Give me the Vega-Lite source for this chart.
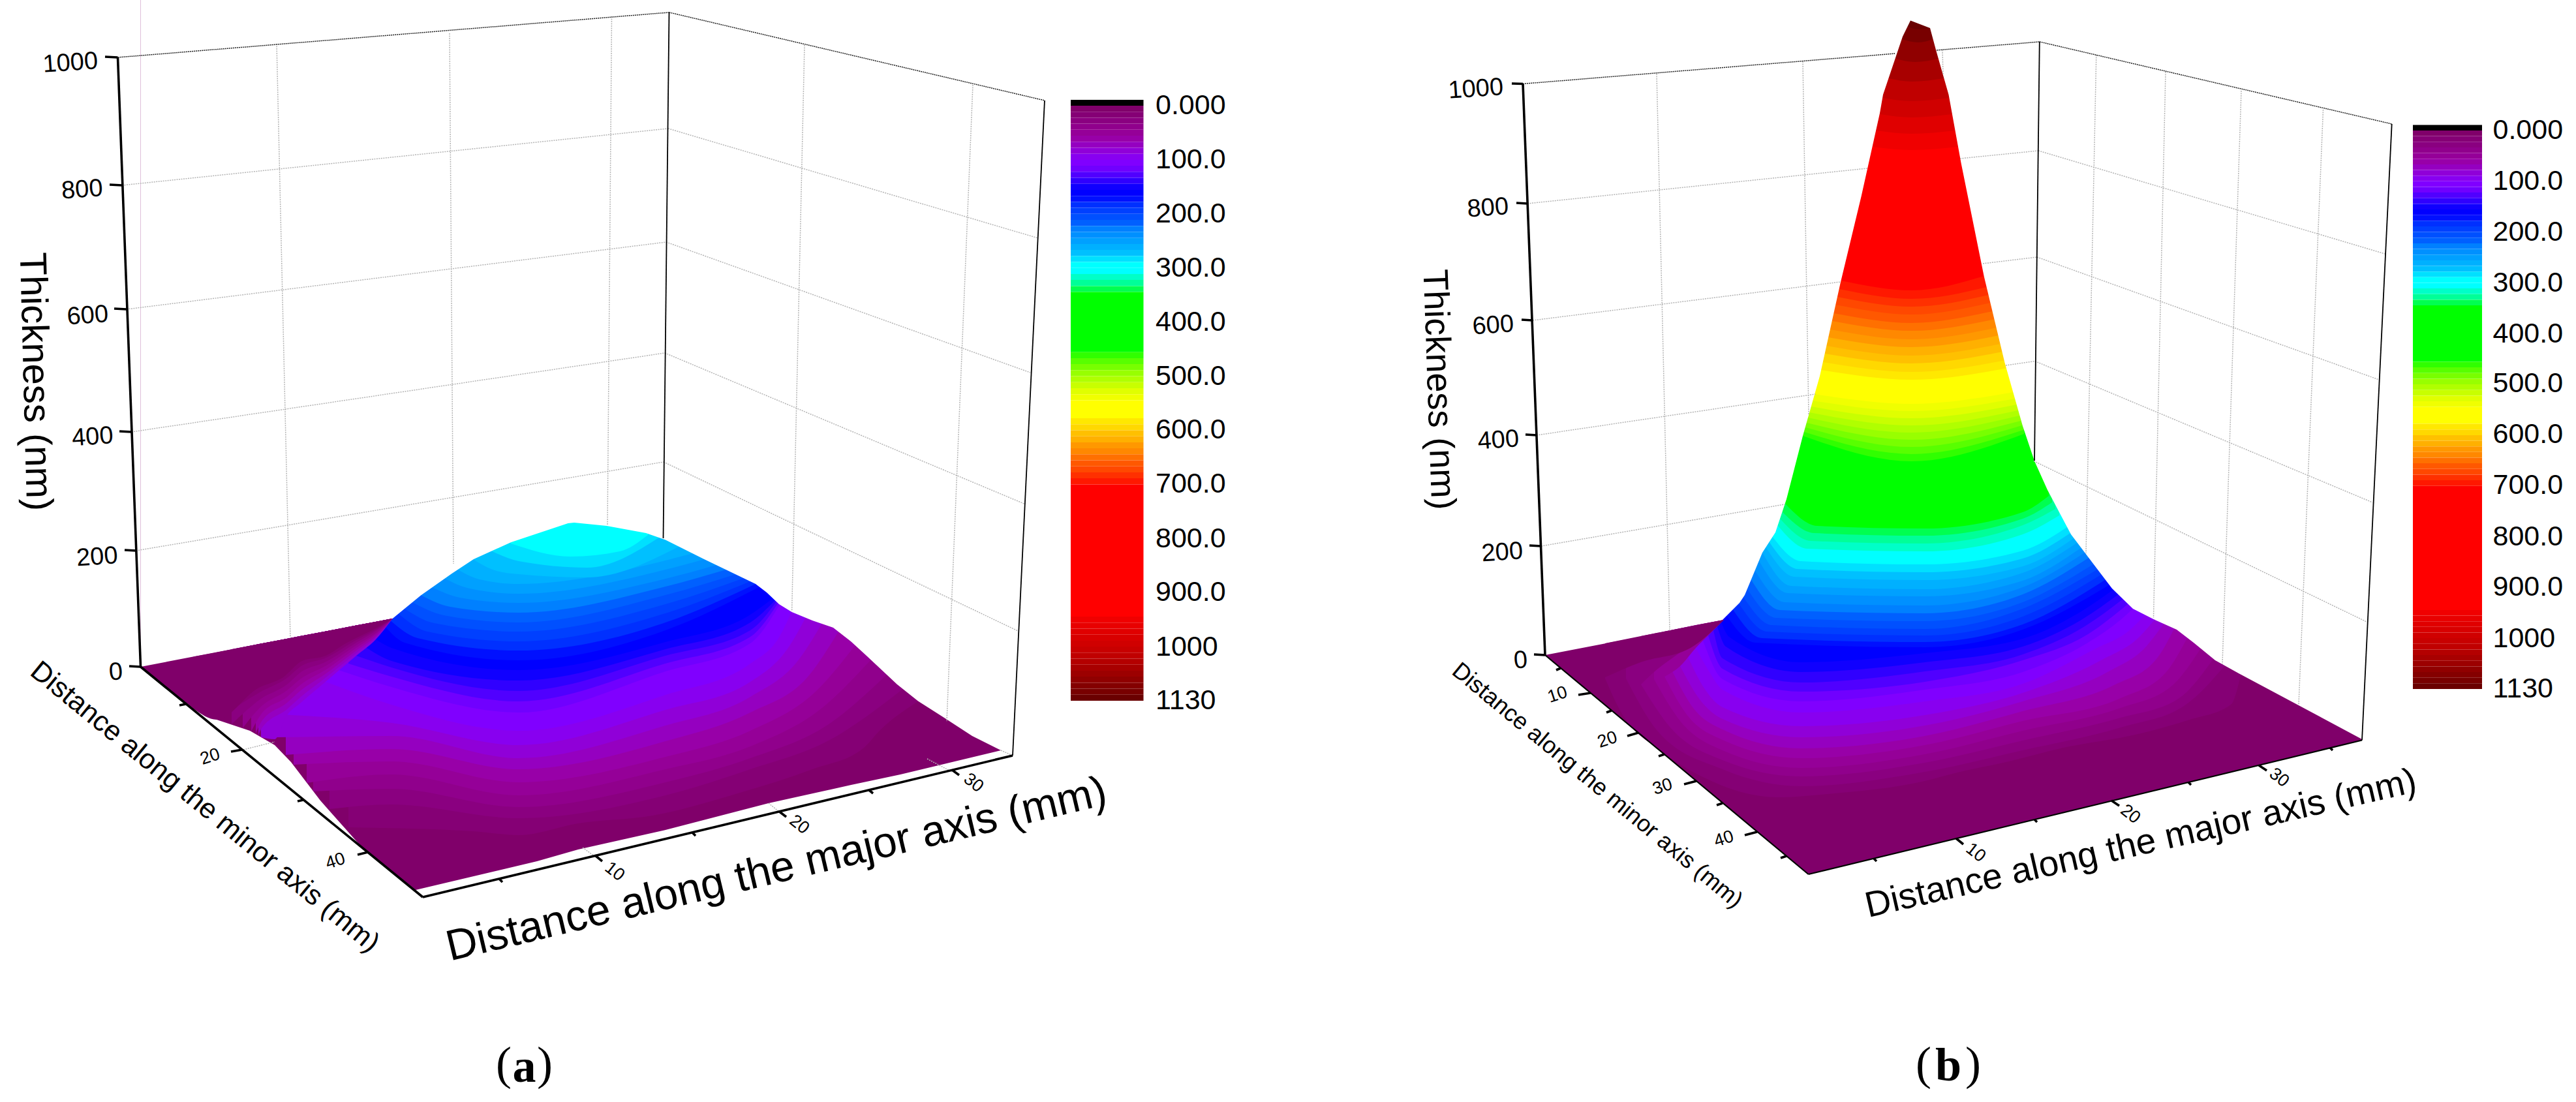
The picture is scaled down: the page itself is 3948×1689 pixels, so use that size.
{"$schema":"https://vega.github.io/schema/vega-lite/v6.json","width":3948,"height":1689,"autosize":{"type":"fit","contains":"padding"},"padding":0,"background":"white","view":{"stroke":null},
"config":{"text":{"font":"Liberation Sans","color":"black"}},
"encoding":{"x":{"field":"u","type":"quantitative","scale":{"domain":[0,3948]},"axis":null},"y":{"field":"v","type":"quantitative","scale":{"domain":[0,1689],"reverse":true},"axis":null,"stack":null}},
"layer":[
{"data":{"values":[
{"p":"a","u":215.5,"v":1022},{"p":"a","u":296.5,"v":1086},{"p":"a","u":332,"v":1103},{"p":"a","u":383,"v":1120},{"p":"a","u":421,"v":1142},{"p":"a","u":446,"v":1168},{"p":"a","u":491,"v":1227},{"p":"a","u":554,"v":1298},{"p":"a","u":637,"v":1364},{"p":"a","u":823,"v":1320},{"p":"a","u":886,"v":1302},{"p":"a","u":1020,"v":1272},{"p":"a","u":1178,"v":1231},{"p":"a","u":1304.5,"v":1203},{"p":"a","u":1380,"v":1187},{"p":"a","u":1534,"v":1150},
{"p":"b","u":2368,"v":1004},{"p":"b","u":2771.6,"v":1340},{"p":"b","u":3620,"v":1134.5}]},
"mark":{"type":"area","color":"#80006a","opacity":1},"encoding":{"y2":{"datum":0},"detail":{"field":"p"}}},
{"data":{"values":[
{"p":"a","k":1,"u":534,"v":1268},{"p":"a","k":1,"u":724,"v":1274},{"p":"a","k":1,"u":795,"v":1280},{"p":"a","k":1,"u":886,"v":1262},{"p":"a","k":1,"u":1000,"v":1250},{"p":"a","k":1,"u":1134,"v":1215},{"p":"a","k":1,"u":1245,"v":1179},{"p":"a","k":1,"u":1324,"v":1146},{"p":"a","k":1,"u":1348,"v":1120},{"p":"a","k":1,"u":1407,"v":1075},
{"p":"a","k":2,"u":505,"v":1240},{"p":"a","k":2,"u":600,"v":1233},{"p":"a","k":2,"u":795,"v":1254},{"p":"a","k":2,"u":1020,"v":1219},{"p":"a","k":2,"u":1150,"v":1179},{"p":"a","k":2,"u":1270,"v":1135},{"p":"a","k":2,"u":1385,"v":1055},
{"p":"a","k":3,"u":480,"v":1213},{"p":"a","k":3,"u":600,"v":1209},{"p":"a","k":3,"u":795,"v":1237},{"p":"a","k":3,"u":1020,"v":1199},{"p":"a","k":3,"u":1150,"v":1162},{"p":"a","k":3,"u":1270,"v":1110},{"p":"a","k":3,"u":1360,"v":1033},
{"p":"a","k":4,"u":470,"v":1200},{"p":"a","k":4,"u":600,"v":1187},{"p":"a","k":4,"u":795,"v":1219},{"p":"a","k":4,"u":1020,"v":1179},{"p":"a","k":4,"u":1150,"v":1144},{"p":"a","k":4,"u":1260,"v":1085},{"p":"a","k":4,"u":1335,"v":1011},
{"p":"a","k":5,"u":450,"v":1172},{"p":"a","k":5,"u":600,"v":1167},{"p":"a","k":5,"u":795,"v":1199},{"p":"a","k":5,"u":1020,"v":1160},{"p":"a","k":5,"u":1150,"v":1120},{"p":"a","k":5,"u":1250,"v":1060},{"p":"a","k":5,"u":1310,"v":990},
{"p":"a","k":6,"u":438,"v":1157},{"p":"a","k":6,"u":600,"v":1148},{"p":"a","k":6,"u":795,"v":1179},{"p":"a","k":6,"u":1020,"v":1136},{"p":"a","k":6,"u":1150,"v":1092},{"p":"a","k":6,"u":1240,"v":1035},{"p":"a","k":6,"u":1285,"v":968},
{"p":"a","k":7,"u":421,"v":1130},{"p":"a","k":7,"u":600,"v":1128},{"p":"a","k":7,"u":795,"v":1162},{"p":"a","k":7,"u":1020,"v":1112},{"p":"a","k":7,"u":1150,"v":1068},{"p":"a","k":7,"u":1225,"v":1010},{"p":"a","k":7,"u":1260,"v":955},
{"p":"a","k":8,"u":430,"v":1095},{"p":"a","k":8,"u":600,"v":1108},{"p":"a","k":8,"u":795,"v":1142},{"p":"a","k":8,"u":1020,"v":1088},{"p":"a","k":8,"u":1150,"v":1045},{"p":"a","k":8,"u":1210,"v":990},{"p":"a","k":8,"u":1235,"v":946},
{"p":"a","k":9,"u":499,"v":1045},{"p":"a","k":9,"u":600,"v":1080},{"p":"a","k":9,"u":795,"v":1120},{"p":"a","k":9,"u":1020,"v":1065},{"p":"a","k":9,"u":1150,"v":1017},{"p":"a","k":9,"u":1195,"v":975},{"p":"a","k":9,"u":1213,"v":938},
{"p":"a","k":10,"u":519,"v":1027},{"p":"a","k":10,"u":600,"v":1053},{"p":"a","k":10,"u":795,"v":1092},{"p":"a","k":10,"u":1020,"v":1029},{"p":"a","k":10,"u":1150,"v":986},{"p":"a","k":10,"u":1196,"v":925},
{"p":"a","k":11,"u":534,"v":1017},{"p":"a","k":11,"u":600,"v":1037},{"p":"a","k":11,"u":795,"v":1075},{"p":"a","k":11,"u":1020,"v":1017},{"p":"a","k":11,"u":1150,"v":976},{"p":"a","k":11,"u":1192,"v":925},
{"p":"a","k":12,"u":546,"v":1005},{"p":"a","k":12,"u":600,"v":1023},{"p":"a","k":12,"u":795,"v":1059},{"p":"a","k":12,"u":1020,"v":1005},{"p":"a","k":12,"u":1150,"v":966},{"p":"a","k":12,"u":1190,"v":922},
{"p":"a","k":13,"u":562,"v":993},{"p":"a","k":13,"u":600,"v":1013},{"p":"a","k":13,"u":795,"v":1043},{"p":"a","k":13,"u":1020,"v":995},{"p":"a","k":13,"u":1150,"v":954},{"p":"a","k":13,"u":1188,"v":920},
{"p":"a","k":14,"u":576,"v":980},{"p":"a","k":14,"u":600,"v":993},{"p":"a","k":14,"u":795,"v":1027},{"p":"a","k":14,"u":1020,"v":984},{"p":"a","k":14,"u":1150,"v":942},{"p":"a","k":14,"u":1186,"v":916},
{"p":"a","k":15,"u":590,"v":960},{"p":"a","k":15,"u":620,"v":985},{"p":"a","k":15,"u":795,"v":1012},{"p":"a","k":15,"u":1020,"v":966},{"p":"a","k":15,"u":1165,"v":899},
{"p":"a","k":16,"u":597,"v":950},{"p":"a","k":16,"u":640,"v":978},{"p":"a","k":16,"u":795,"v":997},{"p":"a","k":16,"u":1020,"v":954},{"p":"a","k":16,"u":1158,"v":895},
{"p":"a","k":17,"u":610,"v":940},{"p":"a","k":17,"u":655,"v":968},{"p":"a","k":17,"u":795,"v":983},{"p":"a","k":17,"u":1020,"v":940},{"p":"a","k":17,"u":1150,"v":891},
{"p":"a","k":18,"u":620,"v":933},{"p":"a","k":18,"u":665,"v":955},{"p":"a","k":18,"u":795,"v":968},{"p":"a","k":18,"u":1020,"v":926},{"p":"a","k":18,"u":1140,"v":886},
{"p":"a","k":19,"u":632,"v":923},{"p":"a","k":19,"u":680,"v":943},{"p":"a","k":19,"u":795,"v":954},{"p":"a","k":19,"u":1020,"v":912},{"p":"a","k":19,"u":1128,"v":880},
{"p":"a","k":20,"u":645,"v":912},{"p":"a","k":20,"u":690,"v":930},{"p":"a","k":20,"u":795,"v":939},{"p":"a","k":20,"u":1020,"v":899},{"p":"a","k":20,"u":1113,"v":873},
{"p":"a","k":21,"u":662,"v":900},{"p":"a","k":21,"u":705,"v":916},{"p":"a","k":21,"u":795,"v":924},{"p":"a","k":21,"u":1020,"v":887},{"p":"a","k":21,"u":1098,"v":866},
{"p":"a","k":22,"u":680,"v":886},{"p":"a","k":22,"u":720,"v":902},{"p":"a","k":22,"u":795,"v":910},{"p":"a","k":22,"u":1020,"v":873},{"p":"a","k":22,"u":1080,"v":857},
{"p":"a","k":23,"u":700,"v":872},{"p":"a","k":23,"u":735,"v":888},{"p":"a","k":23,"u":795,"v":895},{"p":"a","k":23,"u":1020,"v":859},{"p":"a","k":23,"u":1062,"v":848},
{"p":"a","k":24,"u":725,"v":857},{"p":"a","k":24,"u":755,"v":873},{"p":"a","k":24,"u":795,"v":880},{"p":"a","k":24,"u":900,"v":885},{"p":"a","k":24,"u":1040,"v":838},
{"p":"a","k":25,"u":750,"v":843},{"p":"a","k":25,"u":795,"v":860},{"p":"a","k":25,"u":900,"v":870},{"p":"a","k":25,"u":1010,"v":824},
{"p":"a","k":26,"u":783,"v":833},{"p":"a","k":26,"u":874,"v":853},{"p":"a","k":26,"u":950,"v":845},{"p":"a","k":26,"u":993,"v":820},
{"p":"b","k":1,"u":2460,"v":1040},{"p":"b","k":1,"u":2483,"v":1089},{"p":"b","k":1,"u":2546,"v":1151},{"p":"b","k":1,"u":2610,"v":1191},{"p":"b","k":1,"u":2725,"v":1222},{"p":"b","k":1,"u":2801,"v":1217},{"p":"b","k":1,"u":2950,"v":1197},{"p":"b","k":1,"u":3000,"v":1184},{"p":"b","k":1,"u":3079,"v":1167},{"p":"b","k":1,"u":3158,"v":1147},{"p":"b","k":1,"u":3277,"v":1125},{"p":"b","k":1,"u":3356,"v":1103},{"p":"b","k":1,"u":3419,"v":1080},{"p":"b","k":1,"u":3434,"v":1036},
{"p":"b","k":2,"u":2492,"v":1040},{"p":"b","k":2,"u":2540,"v":1120},{"p":"b","k":2,"u":2640,"v":1179},{"p":"b","k":2,"u":2760,"v":1205},{"p":"b","k":2,"u":2950,"v":1183},{"p":"b","k":2,"u":3100,"v":1150},{"p":"b","k":2,"u":3250,"v":1115},{"p":"b","k":2,"u":3350,"v":1080},{"p":"b","k":2,"u":3410,"v":1020},
{"p":"b","k":3,"u":2515,"v":1049},{"p":"b","k":3,"u":2560,"v":1115},{"p":"b","k":3,"u":2640,"v":1165},{"p":"b","k":3,"u":2760,"v":1190},{"p":"b","k":3,"u":2950,"v":1169},{"p":"b","k":3,"u":3100,"v":1135},{"p":"b","k":3,"u":3250,"v":1100},{"p":"b","k":3,"u":3340,"v":1070},{"p":"b","k":3,"u":3392,"v":1010},
{"p":"b","k":4,"u":2535,"v":1041},{"p":"b","k":4,"u":2575,"v":1105},{"p":"b","k":4,"u":2640,"v":1150},{"p":"b","k":4,"u":2760,"v":1177},{"p":"b","k":4,"u":2950,"v":1156},{"p":"b","k":4,"u":3100,"v":1120},{"p":"b","k":4,"u":3250,"v":1085},{"p":"b","k":4,"u":3330,"v":1050},{"p":"b","k":4,"u":3372,"v":995},
{"p":"b","k":5,"u":2551,"v":1037},{"p":"b","k":5,"u":2585,"v":1095},{"p":"b","k":5,"u":2640,"v":1134},{"p":"b","k":5,"u":2760,"v":1162},{"p":"b","k":5,"u":2950,"v":1142},{"p":"b","k":5,"u":3100,"v":1105},{"p":"b","k":5,"u":3250,"v":1070},{"p":"b","k":5,"u":3320,"v":1030},{"p":"b","k":5,"u":3352,"v":978},
{"p":"b","k":6,"u":2563,"v":1029},{"p":"b","k":6,"u":2595,"v":1085},{"p":"b","k":6,"u":2640,"v":1118},{"p":"b","k":6,"u":2760,"v":1147},{"p":"b","k":6,"u":2950,"v":1128},{"p":"b","k":6,"u":3100,"v":1090},{"p":"b","k":6,"u":3240,"v":1050},{"p":"b","k":6,"u":3305,"v":1010},{"p":"b","k":6,"u":3332,"v":964},
{"p":"b","k":7,"u":2575,"v":1021},{"p":"b","k":7,"u":2605,"v":1072},{"p":"b","k":7,"u":2640,"v":1102},{"p":"b","k":7,"u":2760,"v":1130},{"p":"b","k":7,"u":2950,"v":1112},{"p":"b","k":7,"u":3100,"v":1075},{"p":"b","k":7,"u":3230,"v":1030},{"p":"b","k":7,"u":3290,"v":990},{"p":"b","k":7,"u":3316,"v":956},
{"p":"b","k":8,"u":2587,"v":1007},{"p":"b","k":8,"u":2612,"v":1055},{"p":"b","k":8,"u":2640,"v":1084},{"p":"b","k":8,"u":2760,"v":1113},{"p":"b","k":8,"u":2950,"v":1096},{"p":"b","k":8,"u":3100,"v":1062},{"p":"b","k":8,"u":3220,"v":1012},{"p":"b","k":8,"u":3280,"v":975},{"p":"b","k":8,"u":3302,"v":950},
{"p":"b","k":9,"u":2599,"v":993},{"p":"b","k":9,"u":2620,"v":1030},{"p":"b","k":9,"u":2640,"v":1057},{"p":"b","k":9,"u":2760,"v":1092},{"p":"b","k":9,"u":2950,"v":1075},{"p":"b","k":9,"u":3100,"v":1048},{"p":"b","k":9,"u":3210,"v":995},{"p":"b","k":9,"u":3265,"v":965},{"p":"b","k":9,"u":3287,"v":943},
{"p":"b","k":10,"u":2610,"v":982},{"p":"b","k":10,"u":2640,"v":1041},{"p":"b","k":10,"u":2760,"v":1075},{"p":"b","k":10,"u":2950,"v":1057},{"p":"b","k":10,"u":3100,"v":1030},{"p":"b","k":10,"u":3200,"v":985},{"p":"b","k":10,"u":3250,"v":950},{"p":"b","k":10,"u":3270,"v":932},
{"p":"b","k":11,"u":2618,"v":974},{"p":"b","k":11,"u":2640,"v":1025},{"p":"b","k":11,"u":2760,"v":1060},{"p":"b","k":11,"u":2950,"v":1045},{"p":"b","k":11,"u":3100,"v":1012},{"p":"b","k":11,"u":3200,"v":972},{"p":"b","k":11,"u":3262,"v":925},
{"p":"b","k":12,"u":2626,"v":966},{"p":"b","k":12,"u":2640,"v":1009},{"p":"b","k":12,"u":2760,"v":1046},{"p":"b","k":12,"u":2950,"v":1029},{"p":"b","k":12,"u":3100,"v":1003},{"p":"b","k":12,"u":3195,"v":960},{"p":"b","k":12,"u":3255,"v":917},
{"p":"b","k":13,"u":2632,"v":960},{"p":"b","k":13,"u":2645,"v":991},{"p":"b","k":13,"u":2760,"v":1030},{"p":"b","k":13,"u":2950,"v":1015},{"p":"b","k":13,"u":3100,"v":991},{"p":"b","k":13,"u":3190,"v":950},{"p":"b","k":13,"u":3248,"v":910},
{"p":"b","k":14,"u":2638,"v":954},{"p":"b","k":14,"u":2650,"v":976},{"p":"b","k":14,"u":2760,"v":1015},{"p":"b","k":14,"u":2950,"v":1001},{"p":"b","k":14,"u":3100,"v":979},{"p":"b","k":14,"u":3185,"v":940},{"p":"b","k":14,"u":3240,"v":903},
{"p":"b","k":15,"u":2645,"v":942},{"p":"b","k":15,"u":2690,"v":985},{"p":"b","k":15,"u":2950,"v":992},{"p":"b","k":15,"u":3100,"v":965},{"p":"b","k":15,"u":3232,"v":897},
{"p":"b","k":16,"u":2655,"v":933},{"p":"b","k":16,"u":2700,"v":978},{"p":"b","k":16,"u":2950,"v":984},{"p":"b","k":16,"u":3100,"v":957},{"p":"b","k":16,"u":3226,"v":889},
{"p":"b","k":17,"u":2665,"v":925},{"p":"b","k":17,"u":2708,"v":968},{"p":"b","k":17,"u":2950,"v":974},{"p":"b","k":17,"u":3100,"v":945},{"p":"b","k":17,"u":3220,"v":881},
{"p":"b","k":18,"u":2672,"v":915},{"p":"b","k":18,"u":2715,"v":958},{"p":"b","k":18,"u":2950,"v":964},{"p":"b","k":18,"u":3100,"v":933},{"p":"b","k":18,"u":3214,"v":873},
{"p":"b","k":19,"u":2678,"v":903},{"p":"b","k":19,"u":2722,"v":947},{"p":"b","k":19,"u":2950,"v":952},{"p":"b","k":19,"u":3100,"v":923},{"p":"b","k":19,"u":3208,"v":865},
{"p":"b","k":20,"u":2684,"v":889},{"p":"b","k":20,"u":2728,"v":935},{"p":"b","k":20,"u":2950,"v":940},{"p":"b","k":20,"u":3100,"v":911},{"p":"b","k":20,"u":3201,"v":855},
{"p":"b","k":21,"u":2690,"v":875},{"p":"b","k":21,"u":2735,"v":923},{"p":"b","k":21,"u":2950,"v":928},{"p":"b","k":21,"u":3100,"v":900},{"p":"b","k":21,"u":3195,"v":847},
{"p":"b","k":22,"u":2696,"v":860},{"p":"b","k":22,"u":2740,"v":909},{"p":"b","k":22,"u":2950,"v":914},{"p":"b","k":22,"u":3100,"v":890},{"p":"b","k":22,"u":3189,"v":840},
{"p":"b","k":23,"u":2701,"v":847},{"p":"b","k":23,"u":2745,"v":898},{"p":"b","k":23,"u":2950,"v":903},{"p":"b","k":23,"u":3100,"v":878},{"p":"b","k":23,"u":3183,"v":832},
{"p":"b","k":24,"u":2706,"v":838},{"p":"b","k":24,"u":2750,"v":884},{"p":"b","k":24,"u":2950,"v":889},{"p":"b","k":24,"u":3100,"v":868},{"p":"b","k":24,"u":3178,"v":825},
{"p":"b","k":25,"u":2711,"v":830},{"p":"b","k":25,"u":2755,"v":872},{"p":"b","k":25,"u":2950,"v":877},{"p":"b","k":25,"u":3100,"v":856},{"p":"b","k":25,"u":3173,"v":817},
{"p":"b","k":26,"u":2716,"v":822},{"p":"b","k":26,"u":2760,"v":860},{"p":"b","k":26,"u":2950,"v":865},{"p":"b","k":26,"u":3100,"v":844},{"p":"b","k":26,"u":3168,"v":808},
{"p":"b","k":28,"u":2724,"v":805},{"p":"b","k":28,"u":2770,"v":841},{"p":"b","k":28,"u":2950,"v":845},{"p":"b","k":28,"u":3100,"v":819},{"p":"b","k":28,"u":3156,"v":790},
{"p":"b","k":29,"u":2728,"v":795},{"p":"b","k":29,"u":2775,"v":829},{"p":"b","k":29,"u":2950,"v":833},{"p":"b","k":29,"u":3100,"v":805},{"p":"b","k":29,"u":3150,"v":780},
{"p":"b","k":30,"u":2732,"v":785},{"p":"b","k":30,"u":2780,"v":817},{"p":"b","k":30,"u":2950,"v":821},{"p":"b","k":30,"u":3100,"v":795},{"p":"b","k":30,"u":3145,"v":770},
{"p":"b","k":31,"u":2736,"v":772},{"p":"b","k":31,"u":2785,"v":806},{"p":"b","k":31,"u":2950,"v":810},{"p":"b","k":31,"u":3100,"v":785},{"p":"b","k":31,"u":3140,"v":760},
{"p":"b","k":41,"u":2763,"v":668},{"p":"b","k":41,"u":2930,"v":707},{"p":"b","k":41,"u":3102,"v":665},
{"p":"b","k":42,"u":2765,"v":662},{"p":"b","k":42,"u":2930,"v":696},{"p":"b","k":42,"u":3101,"v":659},
{"p":"b","k":43,"u":2767,"v":655},{"p":"b","k":43,"u":2930,"v":685},{"p":"b","k":43,"u":3099,"v":652},
{"p":"b","k":44,"u":2769,"v":648},{"p":"b","k":44,"u":2930,"v":674},{"p":"b","k":44,"u":3097,"v":645},
{"p":"b","k":45,"u":2771,"v":640},{"p":"b","k":45,"u":2930,"v":663},{"p":"b","k":45,"u":3095,"v":637},
{"p":"b","k":46,"u":2773,"v":632},{"p":"b","k":46,"u":2930,"v":652},{"p":"b","k":46,"u":3093,"v":629},
{"p":"b","k":47,"u":2776,"v":623},{"p":"b","k":47,"u":2930,"v":641},{"p":"b","k":47,"u":3091,"v":620},
{"p":"b","k":48,"u":2778,"v":614},{"p":"b","k":48,"u":2930,"v":630},{"p":"b","k":48,"u":3088,"v":611},
{"p":"b","k":49,"u":2781,"v":604},{"p":"b","k":49,"u":2930,"v":619},{"p":"b","k":49,"u":3086,"v":601},
{"p":"b","k":52,"u":2791,"v":567},{"p":"b","k":52,"u":2930,"v":582},{"p":"b","k":52,"u":3077,"v":564},
{"p":"b","k":53,"u":2794,"v":555},{"p":"b","k":53,"u":2930,"v":570},{"p":"b","k":53,"u":3074,"v":552},
{"p":"b","k":54,"u":2797,"v":542},{"p":"b","k":54,"u":2930,"v":557},{"p":"b","k":54,"u":3070,"v":539},
{"p":"b","k":55,"u":2799,"v":530},{"p":"b","k":55,"u":2930,"v":545},{"p":"b","k":55,"u":3067,"v":527},
{"p":"b","k":56,"u":2802,"v":517},{"p":"b","k":56,"u":2930,"v":532},{"p":"b","k":56,"u":3064,"v":514},
{"p":"b","k":57,"u":2805,"v":505},{"p":"b","k":57,"u":2930,"v":520},{"p":"b","k":57,"u":3061,"v":502},
{"p":"b","k":58,"u":2808,"v":492},{"p":"b","k":58,"u":2930,"v":507},{"p":"b","k":58,"u":3058,"v":489},
{"p":"b","k":59,"u":2810,"v":480},{"p":"b","k":59,"u":2930,"v":495},{"p":"b","k":59,"u":3054,"v":477},
{"p":"b","k":60,"u":2813,"v":467},{"p":"b","k":60,"u":2930,"v":482},{"p":"b","k":60,"u":3051,"v":464},
{"p":"b","k":61,"u":2816,"v":455},{"p":"b","k":61,"u":2930,"v":470},{"p":"b","k":61,"u":3048,"v":452},
{"p":"b","k":62,"u":2819,"v":443},{"p":"b","k":62,"u":2930,"v":458},{"p":"b","k":62,"u":3045,"v":440},
{"p":"b","k":63,"u":2821,"v":430},{"p":"b","k":63,"u":2930,"v":445},{"p":"b","k":63,"u":3041,"v":423},
{"p":"b","k":85,"u":2869,"v":225},{"p":"b","k":85,"u":2930,"v":230},{"p":"b","k":85,"u":3001,"v":225},
{"p":"b","k":87,"u":2875,"v":200},{"p":"b","k":87,"u":2930,"v":205},{"p":"b","k":87,"u":2997,"v":200},
{"p":"b","k":89,"u":2881,"v":175},{"p":"b","k":89,"u":2930,"v":180},{"p":"b","k":89,"u":2992,"v":175},
{"p":"b","k":91,"u":2885,"v":150},{"p":"b","k":91,"u":2930,"v":155},{"p":"b","k":91,"u":2987,"v":150},
{"p":"b","k":93,"u":2894,"v":120},{"p":"b","k":93,"u":2930,"v":125},{"p":"b","k":93,"u":2980,"v":120},
{"p":"b","k":95,"u":2905,"v":90},{"p":"b","k":95,"u":2935,"v":95},{"p":"b","k":95,"u":2971,"v":90},
{"p":"b","k":97,"u":2915,"v":60},{"p":"b","k":97,"u":2940,"v":65},{"p":"b","k":97,"u":2963,"v":60},
{"p":"b","k":98,"u":2922,"v":40},{"p":"b","k":98,"u":2940,"v":45},{"p":"b","k":98,"u":2958,"v":43}
]},
"mark":{"type":"area","interpolate":"monotone","opacity":1},
"encoding":{"y2":{"datum":0},"detail":{"field":"p"},"color":{"field":"k","type":"ordinal","legend":null,"scale":{"domain":[-1,0,1,2,3,4,5,6,7,8,9,10,11,12,13,14,15,16,17,18,19,20,21,22,23,24,25,26,27,28,29,30,31,41,42,43,44,45,46,47,48,49,52,53,54,55,56,57,58,59,60,61,62,63,85,86,87,88,89,90,91,92,93,94,95,96,97,98],"range":["#000000","#80006a","#850075","#8a0080","#90008c","#950098","#9800a8","#9500c0","#9000d8","#8800f0","#8000ff","#7000ff","#5000ff","#3000ff","#1000ff","#0000ff","#0010ff","#0030ff","#0040ff","#0050ff","#0060ff","#0080ff","#0090ff","#00a0ff","#00b0ff","#00c0ff","#00e0ff","#00ffff","#00ffff","#00ffc8","#00ff98","#00ff50","#00ff00","#30ff00","#58ff00","#78ff00","#98ff00","#b0ff00","#c8ff00","#e0ff00","#f0ff00","#ffff00","#ffe800","#ffd800","#ffc000","#ffb000","#ff9800","#ff8800","#ff7000","#ff5800","#ff4800","#ff3000","#ff1800","#ff0000","#f00000","#e80000","#e00000","#d80000","#d00000","#c80000","#c00000","#b40000","#a80000","#9c0000","#900000","#840000","#780000","#6a0000"]}}}},
{"data":{"values":[
{"p":"a","u":215.5,"v":1022},{"p":"a","u":601.7,"v":948},{"p":"a","u":645,"v":912.5},{"p":"a","u":692.6,"v":879},{"p":"a","u":726,"v":857},{"p":"a","u":783.5,"v":831},{"p":"a","u":870.6,"v":802},{"p":"a","u":880,"v":801},{"p":"a","u":930,"v":806},{"p":"a","u":990,"v":817},{"p":"a","u":1020,"v":827.5},{"p":"a","u":1079,"v":857},{"p":"a","u":1158,"v":895},{"p":"a","u":1175,"v":908},{"p":"a","u":1194,"v":926},{"p":"a","u":1213.5,"v":938},{"p":"a","u":1245,"v":951},{"p":"a","u":1277,"v":962},{"p":"a","u":1304,"v":983},{"p":"a","u":1328,"v":1005},{"p":"a","u":1375,"v":1049},{"p":"a","u":1407,"v":1074.6},{"p":"a","u":1447,"v":1100},{"p":"a","u":1490,"v":1128},{"p":"a","u":1534,"v":1150},
{"p":"b","u":2368,"v":1004},{"p":"b","u":2638,"v":952},{"p":"b","u":2666,"v":924},{"p":"b","u":2674,"v":912},{"p":"b","u":2701,"v":847},{"p":"b","u":2721,"v":816},{"p":"b","u":2738,"v":765},{"p":"b","u":2763,"v":668},{"p":"b","u":2789,"v":576.5},{"p":"b","u":2820.6,"v":434},{"p":"b","u":2852.6,"v":301},{"p":"b","u":2881,"v":173.5},{"p":"b","u":2886,"v":145},{"p":"b","u":2916,"v":56},{"p":"b","u":2928,"v":31.6},{"p":"b","u":2958,"v":43},{"p":"b","u":2967,"v":76.5},{"p":"b","u":2986.5,"v":145},{"p":"b","u":3005.6,"v":250},{"p":"b","u":3040.7,"v":423.5},{"p":"b","u":3072.5,"v":556},{"p":"b","u":3100,"v":653},{"p":"b","u":3118,"v":706.6},{"p":"b","u":3138,"v":751},{"p":"b","u":3174,"v":819},{"p":"b","u":3209.6,"v":866},{"p":"b","u":3237,"v":902},{"p":"b","u":3269,"v":933},{"p":"b","u":3300.5,"v":949},{"p":"b","u":3336,"v":965},{"p":"b","u":3362,"v":985},{"p":"b","u":3395,"v":1012},{"p":"b","u":3431,"v":1032},{"p":"b","u":3620,"v":1133}]},
"mark":{"type":"area","color":"white","opacity":1},"encoding":{"y2":{"datum":0},"detail":{"field":"p"}}},
{"data":{"values":[
{"p":"a","k":7,"u":400,"v":1130,"t":986.6},{"p":"a","k":7,"u":421,"v":1133,"t":982.6},{"p":"a","k":7,"u":440,"v":1096,"t":979},{"p":"a","k":7,"u":460,"v":1078,"t":975},{"p":"a","k":7,"u":500,"v":1044,"t":967.5},{"p":"a","k":7,"u":546,"v":1005,"t":958.6},{"p":"a","k":7,"u":576,"v":980,"t":953},{"p":"a","k":7,"u":601.7,"v":948,"t":948},
{"p":"a","k":6,"u":396,"v":1127,"t":987},{"p":"a","k":6,"u":400,"v":1118,"t":986.6},{"p":"a","k":6,"u":440,"v":1087,"t":979},{"p":"a","k":6,"u":460,"v":1069,"t":975},{"p":"a","k":6,"u":500,"v":1038,"t":967.5},{"p":"a","k":6,"u":546,"v":1001,"t":958.6},{"p":"a","k":6,"u":576,"v":977,"t":953},{"p":"a","k":6,"u":601.7,"v":948,"t":948},
{"p":"a","k":5,"u":392,"v":1124,"t":988},{"p":"a","k":5,"u":400,"v":1107,"t":986.6},{"p":"a","k":5,"u":440,"v":1077,"t":979},{"p":"a","k":5,"u":460,"v":1059,"t":975},{"p":"a","k":5,"u":500,"v":1032,"t":967.5},{"p":"a","k":5,"u":546,"v":997,"t":958.6},{"p":"a","k":5,"u":576,"v":975,"t":953},{"p":"a","k":5,"u":601.7,"v":948,"t":948},
{"p":"a","k":4,"u":385,"v":1121,"t":989.4},{"p":"a","k":4,"u":400,"v":1095,"t":986.6},{"p":"a","k":4,"u":440,"v":1068,"t":979},{"p":"a","k":4,"u":460,"v":1050,"t":975},{"p":"a","k":4,"u":500,"v":1026,"t":967.5},{"p":"a","k":4,"u":546,"v":993,"t":958.6},{"p":"a","k":4,"u":576,"v":972,"t":953},{"p":"a","k":4,"u":601.7,"v":948,"t":948},
{"p":"a","k":3,"u":372,"v":1116,"t":992},{"p":"a","k":3,"u":400,"v":1083,"t":986.6},{"p":"a","k":3,"u":440,"v":1058,"t":979},{"p":"a","k":3,"u":460,"v":1041,"t":975},{"p":"a","k":3,"u":500,"v":1020,"t":967.5},{"p":"a","k":3,"u":546,"v":989,"t":958.6},{"p":"a","k":3,"u":576,"v":970,"t":953},{"p":"a","k":3,"u":601.7,"v":948,"t":948},
{"p":"a","k":2,"u":355,"v":1110,"t":995},{"p":"a","k":2,"u":400,"v":1071,"t":986.6},{"p":"a","k":2,"u":440,"v":1049,"t":979},{"p":"a","k":2,"u":460,"v":1031,"t":975},{"p":"a","k":2,"u":500,"v":1014,"t":967.5},{"p":"a","k":2,"u":546,"v":985,"t":958.6},{"p":"a","k":2,"u":576,"v":967,"t":953},{"p":"a","k":2,"u":601.7,"v":948,"t":948},
{"p":"a","k":1,"u":332,"v":1103,"t":1000},{"p":"a","k":1,"u":400,"v":1060,"t":986.6},{"p":"a","k":1,"u":440,"v":1039,"t":979},{"p":"a","k":1,"u":460,"v":1022,"t":975},{"p":"a","k":1,"u":500,"v":1008,"t":967.5},{"p":"a","k":1,"u":546,"v":981,"t":958.6},{"p":"a","k":1,"u":576,"v":965,"t":953},{"p":"a","k":1,"u":601.7,"v":948,"t":948},
{"p":"a","k":0,"u":296.5,"v":1086,"t":1006.6},{"p":"a","k":0,"u":332,"v":1103,"t":1000},{"p":"a","k":0,"u":395,"v":1055,"t":987.5},{"p":"a","k":0,"u":434,"v":1038,"t":980},{"p":"a","k":0,"u":463,"v":1013,"t":974.6},{"p":"a","k":0,"u":499,"v":1005,"t":967.7},{"p":"a","k":0,"u":530,"v":986,"t":961.8},{"p":"a","k":0,"u":570,"v":966,"t":954},{"p":"a","k":0,"u":601.7,"v":948,"t":948},
{"p":"b","k":4,"u":2551,"v":1037,"t":968},{"p":"b","k":4,"u":2575,"v":1021,"t":963},{"p":"b","k":4,"u":2599,"v":993,"t":958},{"p":"b","k":4,"u":2618,"v":974,"t":954.5},{"p":"b","k":4,"u":2642,"v":950,"t":950},
{"p":"b","k":2,"u":2515,"v":1049,"t":975},{"p":"b","k":2,"u":2535,"v":1030,"t":971},{"p":"b","k":2,"u":2575,"v":1000,"t":963},{"p":"b","k":2,"u":2610,"v":975,"t":956},{"p":"b","k":2,"u":2642,"v":950,"t":950},
{"p":"b","k":0,"u":2460,"v":1038,"t":986},{"p":"b","k":0,"u":2514.5,"v":1015,"t":975},{"p":"b","k":0,"u":2591,"v":993,"t":960},{"p":"b","k":0,"u":2642,"v":950,"t":950}
]},
"mark":{"type":"area","interpolate":"monotone","opacity":1},
"encoding":{"y2":{"field":"t"},"detail":{"field":"p"},"color":{"field":"k","type":"ordinal","legend":null,"scale":{"domain":[-1,0,1,2,3,4,5,6,7,8,9,10,11,12,13,14,15,16,17,18,19,20,21,22,23,24,25,26,27,28,29,30,31,41,42,43,44,45,46,47,48,49,52,53,54,55,56,57,58,59,60,61,62,63,85,86,87,88,89,90,91,92,93,94,95,96,97,98],"range":["#000000","#80006a","#850075","#8a0080","#90008c","#950098","#9800a8","#9500c0","#9000d8","#8800f0","#8000ff","#7000ff","#5000ff","#3000ff","#1000ff","#0000ff","#0010ff","#0030ff","#0040ff","#0050ff","#0060ff","#0080ff","#0090ff","#00a0ff","#00b0ff","#00c0ff","#00e0ff","#00ffff","#00ffff","#00ffc8","#00ff98","#00ff50","#00ff00","#30ff00","#58ff00","#78ff00","#98ff00","#b0ff00","#c8ff00","#e0ff00","#f0ff00","#ffff00","#ffe800","#ffd800","#ffc000","#ffb000","#ff9800","#ff8800","#ff7000","#ff5800","#ff4800","#ff3000","#ff1800","#ff0000","#f00000","#e80000","#e00000","#d80000","#d00000","#c80000","#c00000","#b40000","#a80000","#9c0000","#900000","#840000","#780000","#6a0000"]}}}},
{"data":{"values":[
{"u":187,"v":284,"u2":1024,"v2":197},{"u":194,"v":474,"u2":1021,"v2":371},{"u":201.5,"v":662,"u2":1019,"v2":541},{"u":208.5,"v":844,"u2":1017,"v2":708},
{"u":1024,"v":197,"u2":1591,"v2":365},{"u":1021,"v":371,"u2":1579,"v2":571},{"u":1019,"v":541,"u2":1569.5,"v2":772},{"u":1017,"v":708,"u2":1560,"v2":967},
{"u":424,"v":67,"u2":445,"v2":978},{"u":689,"v":51,"u2":695,"v2":864},{"u":937.5,"v":25,"u2":931,"v2":805},{"u":1233,"v":69,"u2":1213.6,"v2":937},{"u":1491,"v":130,"u2":1451,"v2":1106},
{"u":373,"v":1149,"u2":421,"v2":1137},{"u":893,"v":1299,"u2":912,"v2":1313},{"u":1178,"v":1231,"u2":1195,"v2":1245},{"u":1421,"v":1163,"u2":1459,"v2":1183},{"u":1534,"v":1150,"u2":1552,"v2":1158},
{"u":2341,"v":312,"u2":2862,"v2":258},{"u":3004,"v":243,"u2":3124,"v2":231},{"u":2349,"v":491,"u2":2821,"v2":432},{"u":3039,"v":404,"u2":3122,"v2":394},{"u":2355,"v":667,"u2":2782,"v2":604},{"u":3074,"v":560,"u2":3119,"v2":553.6},{"u":2362,"v":837,"u2":2735,"v2":773},
{"u":3124,"v":231,"u2":3655,"v2":389},{"u":3122,"v":394,"u2":3645,"v2":581.6},{"u":3119,"v":553.6,"u2":3636,"v2":770},{"u":3117,"v":706.6,"u2":3627,"v2":953},
{"u":2539,"v":113,"u2":2559,"v2":967},{"u":2763,"v":94,"u2":2772,"v2":636},{"u":2977,"v":76.5,"u2":2978,"v2":115},
{"u":3212.8,"v":84,"u2":3197,"v2":848},{"u":3319,"v":110,"u2":3300.5,"v2":947},{"u":3435,"v":139,"u2":3406,"v2":1018},{"u":3560.5,"v":168,"u2":3523,"v2":1080}]},
"mark":{"type":"rule","color":"#b4b4b4","strokeWidth":1.5,"strokeDash":[2,1.5]},"encoding":{"x2":{"field":"u2"},"y2":{"field":"v2"}}},
{"data":{"values":[
{"u":180.5,"v":88,"u2":1025.5,"v2":19},{"u":1025.5,"v":19,"u2":1601,"v2":154},
{"u":2334,"v":128.5,"u2":2905,"v2":82},{"u":2968,"v":77,"u2":3125.8,"v2":64},{"u":3125.8,"v":64,"u2":3665.7,"v2":190}]},
"mark":{"type":"rule","color":"#222222","strokeWidth":1.5,"strokeDash":[2,1]},"encoding":{"x2":{"field":"u2"},"y2":{"field":"v2"}}},
{"data":{"values":[
{"u":1025.5,"v":19,"u2":1016.5,"v2":825},{"u":1601,"v":154,"u2":1552,"v2":1158},
{"u":3125.8,"v":64,"u2":3118,"v2":706},{"u":3665.7,"v":190,"u2":3620,"v2":1134.5}]},
"mark":{"type":"rule","color":"black","strokeWidth":1.8},"encoding":{"x2":{"field":"u2"},"y2":{"field":"v2"}}},
{"data":{"values":[
{"u":2368,"v":1004,"u2":2771.6,"v2":1340},{"u":2771.6,"v":1340,"u2":3620,"v2":1134.5}]},
"mark":{"type":"rule","color":"black","strokeWidth":2.2},"encoding":{"x2":{"field":"u2"},"y2":{"field":"v2"}}},
{"data":{"values":[
{"u":180.5,"v":88,"u2":215.5,"v2":1022},{"u":215.5,"v":1022,"u2":648,"v2":1375},{"u":648,"v":1375,"u2":1552,"v2":1158},
{"u":161,"v":87,"u2":180.5,"v2":88},{"u":168,"v":283,"u2":187,"v2":284},{"u":175,"v":473,"u2":194,"v2":474},{"u":183,"v":661,"u2":201.5,"v2":662},{"u":191,"v":843,"u2":208.5,"v2":844},{"u":198,"v":1021,"u2":215.5,"v2":1022},
{"u":354,"v":1152,"u2":371,"v2":1149},{"u":548,"v":1310,"u2":564,"v2":1306},{"u":275,"v":1081,"u2":285,"v2":1079},{"u":456,"v":1228,"u2":465,"v2":1226},
{"u":912,"v":1311,"u2":923,"v2":1320},{"u":765,"v":1347,"u2":770,"v2":1352},{"u":1194.5,"v":1244,"u2":1205,"v2":1252},{"u":1061,"v":1276,"u2":1066,"v2":1281},{"u":1332,"v":1211,"u2":1338,"v2":1216},{"u":1459,"v":1180,"u2":1470,"v2":1188},
{"u":2334,"v":128.5,"u2":2368,"v2":1004},
{"u":2317,"v":128,"u2":2334,"v2":128.5},{"u":2324,"v":311,"u2":2341,"v2":312},{"u":2332,"v":490,"u2":2349,"v2":491},{"u":2338,"v":666,"u2":2355,"v2":667},{"u":2344,"v":836,"u2":2362,"v2":837},{"u":2351,"v":1003,"u2":2368,"v2":1004},
{"u":2385,"v":1027,"u2":2392,"v2":1024},{"u":2419,"v":1065,"u2":2438,"v2":1062},{"u":2462,"v":1092,"u2":2470,"v2":1089},{"u":2494,"v":1128,"u2":2511,"v2":1123},{"u":2542,"v":1159,"u2":2551,"v2":1156},{"u":2581,"v":1202,"u2":2600,"v2":1197},{"u":2631,"v":1234,"u2":2640,"v2":1231},{"u":2674,"v":1280,"u2":2693,"v2":1275},{"u":2729,"v":1315,"u2":2738,"v2":1312},
{"u":2872,"v":1316,"u2":2876,"v2":1320},{"u":2998,"v":1285,"u2":3009,"v2":1294},{"u":3118,"v":1256,"u2":3122,"v2":1260},{"u":3236,"v":1227,"u2":3248,"v2":1235},{"u":3354,"v":1199,"u2":3358,"v2":1203},{"u":3462,"v":1173,"u2":3474,"v2":1181},{"u":3571,"v":1146,"u2":3575,"v2":1150}]},
"mark":{"type":"rule","color":"black","strokeWidth":3.6},"encoding":{"x2":{"field":"u2"},"y2":{"field":"v2"}}},
{"data":{"values":[
{"k":-1,"u":1641,"u2":1752.5,"v":153,"v2":162},{"k":0,"u":1641,"u2":1752.5,"v":162,"v2":171.2},{"k":1,"u":1641,"u2":1752.5,"v":171.2,"v2":180.4},{"k":2,"u":1641,"u2":1752.5,"v":180.4,"v2":189.6},{"k":3,"u":1641,"u2":1752.5,"v":189.6,"v2":198.8},{"k":4,"u":1641,"u2":1752.5,"v":198.8,"v2":208.1},{"k":5,"u":1641,"u2":1752.5,"v":208.1,"v2":217.3},{"k":6,"u":1641,"u2":1752.5,"v":217.3,"v2":226.5},{"k":7,"u":1641,"u2":1752.5,"v":226.5,"v2":235.7},{"k":8,"u":1641,"u2":1752.5,"v":235.7,"v2":244.9},{"k":9,"u":1641,"u2":1752.5,"v":244.9,"v2":254.1},{"k":10,"u":1641,"u2":1752.5,"v":254.1,"v2":263.3},{"k":11,"u":1641,"u2":1752.5,"v":263.3,"v2":272.5},{"k":12,"u":1641,"u2":1752.5,"v":272.5,"v2":281.8},{"k":13,"u":1641,"u2":1752.5,"v":281.8,"v2":291},{"k":14,"u":1641,"u2":1752.5,"v":291,"v2":300.2},{"k":15,"u":1641,"u2":1752.5,"v":300.2,"v2":309.4},{"k":16,"u":1641,"u2":1752.5,"v":309.4,"v2":318.6},{"k":17,"u":1641,"u2":1752.5,"v":318.6,"v2":327.8},{"k":18,"u":1641,"u2":1752.5,"v":327.8,"v2":337},{"k":19,"u":1641,"u2":1752.5,"v":337,"v2":346.2},{"k":20,"u":1641,"u2":1752.5,"v":346.2,"v2":355.5},{"k":21,"u":1641,"u2":1752.5,"v":355.5,"v2":364.7},{"k":22,"u":1641,"u2":1752.5,"v":364.7,"v2":373.9},{"k":23,"u":1641,"u2":1752.5,"v":373.9,"v2":383.1},{"k":24,"u":1641,"u2":1752.5,"v":383.1,"v2":392.3},{"k":25,"u":1641,"u2":1752.5,"v":392.3,"v2":401.5},{"k":26,"u":1641,"u2":1752.5,"v":401.5,"v2":410.7},{"k":27,"u":1641,"u2":1752.5,"v":410.7,"v2":419.9},{"k":28,"u":1641,"u2":1752.5,"v":419.9,"v2":429.1},{"k":29,"u":1641,"u2":1752.5,"v":429.1,"v2":438.4},{"k":30,"u":1641,"u2":1752.5,"v":438.4,"v2":447.6},{"k":31,"u":1641,"u2":1752.5,"v":447.6,"v2":539.7},{"k":41,"u":1641,"u2":1752.5,"v":539.7,"v2":548.9},{"k":42,"u":1641,"u2":1752.5,"v":548.9,"v2":558.1},{"k":43,"u":1641,"u2":1752.5,"v":558.1,"v2":567.3},{"k":44,"u":1641,"u2":1752.5,"v":567.3,"v2":576.5},{"k":45,"u":1641,"u2":1752.5,"v":576.5,"v2":585.8},{"k":46,"u":1641,"u2":1752.5,"v":585.8,"v2":595},{"k":47,"u":1641,"u2":1752.5,"v":595,"v2":604.2},{"k":48,"u":1641,"u2":1752.5,"v":604.2,"v2":613.4},{"k":49,"u":1641,"u2":1752.5,"v":613.4,"v2":641},{"k":52,"u":1641,"u2":1752.5,"v":641,"v2":650.2},{"k":53,"u":1641,"u2":1752.5,"v":650.2,"v2":659.4},{"k":54,"u":1641,"u2":1752.5,"v":659.4,"v2":668.7},{"k":55,"u":1641,"u2":1752.5,"v":668.7,"v2":677.9},{"k":56,"u":1641,"u2":1752.5,"v":677.9,"v2":687.1},{"k":57,"u":1641,"u2":1752.5,"v":687.1,"v2":696.3},{"k":58,"u":1641,"u2":1752.5,"v":696.3,"v2":705.5},{"k":59,"u":1641,"u2":1752.5,"v":705.5,"v2":714.7},{"k":60,"u":1641,"u2":1752.5,"v":714.7,"v2":723.9},{"k":61,"u":1641,"u2":1752.5,"v":723.9,"v2":733.1},{"k":62,"u":1641,"u2":1752.5,"v":733.1,"v2":742.4},{"k":63,"u":1641,"u2":1752.5,"v":742.4,"v2":945},{"k":85,"u":1641,"u2":1752.5,"v":945,"v2":954.2},{"k":86,"u":1641,"u2":1752.5,"v":954.2,"v2":963.4},{"k":87,"u":1641,"u2":1752.5,"v":963.4,"v2":972.7},{"k":88,"u":1641,"u2":1752.5,"v":972.7,"v2":981.9},{"k":89,"u":1641,"u2":1752.5,"v":981.9,"v2":991.1},{"k":90,"u":1641,"u2":1752.5,"v":991.1,"v2":1000.3},{"k":91,"u":1641,"u2":1752.5,"v":1000.3,"v2":1009.5},{"k":92,"u":1641,"u2":1752.5,"v":1009.5,"v2":1018.7},{"k":93,"u":1641,"u2":1752.5,"v":1018.7,"v2":1027.9},{"k":94,"u":1641,"u2":1752.5,"v":1027.9,"v2":1037.1},{"k":95,"u":1641,"u2":1752.5,"v":1037.1,"v2":1046.4},{"k":96,"u":1641,"u2":1752.5,"v":1046.4,"v2":1055.6},{"k":97,"u":1641,"u2":1752.5,"v":1055.6,"v2":1064.8},{"k":98,"u":1641,"u2":1752.5,"v":1064.8,"v2":1074},
{"k":-1,"u":3698,"u2":3804,"v":191.4,"v2":200},{"k":0,"u":3698,"u2":3804,"v":200,"v2":208.6},{"k":1,"u":3698,"u2":3804,"v":208.6,"v2":217.3},{"k":2,"u":3698,"u2":3804,"v":217.3,"v2":225.9},{"k":3,"u":3698,"u2":3804,"v":225.9,"v2":234.6},{"k":4,"u":3698,"u2":3804,"v":234.6,"v2":243.2},{"k":5,"u":3698,"u2":3804,"v":243.2,"v2":251.9},{"k":6,"u":3698,"u2":3804,"v":251.9,"v2":260.5},{"k":7,"u":3698,"u2":3804,"v":260.5,"v2":269.2},{"k":8,"u":3698,"u2":3804,"v":269.2,"v2":277.8},{"k":9,"u":3698,"u2":3804,"v":277.8,"v2":286.5},{"k":10,"u":3698,"u2":3804,"v":286.5,"v2":295.1},{"k":11,"u":3698,"u2":3804,"v":295.1,"v2":303.8},{"k":12,"u":3698,"u2":3804,"v":303.8,"v2":312.4},{"k":13,"u":3698,"u2":3804,"v":312.4,"v2":321},{"k":14,"u":3698,"u2":3804,"v":321,"v2":329.7},{"k":15,"u":3698,"u2":3804,"v":329.7,"v2":338.3},{"k":16,"u":3698,"u2":3804,"v":338.3,"v2":347},{"k":17,"u":3698,"u2":3804,"v":347,"v2":355.6},{"k":18,"u":3698,"u2":3804,"v":355.6,"v2":364.3},{"k":19,"u":3698,"u2":3804,"v":364.3,"v2":372.9},{"k":20,"u":3698,"u2":3804,"v":372.9,"v2":381.6},{"k":21,"u":3698,"u2":3804,"v":381.6,"v2":390.2},{"k":22,"u":3698,"u2":3804,"v":390.2,"v2":398.9},{"k":23,"u":3698,"u2":3804,"v":398.9,"v2":407.5},{"k":24,"u":3698,"u2":3804,"v":407.5,"v2":416.2},{"k":25,"u":3698,"u2":3804,"v":416.2,"v2":424.8},{"k":26,"u":3698,"u2":3804,"v":424.8,"v2":433.4},{"k":27,"u":3698,"u2":3804,"v":433.4,"v2":442.1},{"k":28,"u":3698,"u2":3804,"v":442.1,"v2":450.7},{"k":29,"u":3698,"u2":3804,"v":450.7,"v2":459.4},{"k":30,"u":3698,"u2":3804,"v":459.4,"v2":468},{"k":31,"u":3698,"u2":3804,"v":468,"v2":554.5},{"k":41,"u":3698,"u2":3804,"v":554.5,"v2":563.1},{"k":42,"u":3698,"u2":3804,"v":563.1,"v2":571.8},{"k":43,"u":3698,"u2":3804,"v":571.8,"v2":580.4},{"k":44,"u":3698,"u2":3804,"v":580.4,"v2":589.1},{"k":45,"u":3698,"u2":3804,"v":589.1,"v2":597.7},{"k":46,"u":3698,"u2":3804,"v":597.7,"v2":606.4},{"k":47,"u":3698,"u2":3804,"v":606.4,"v2":615},{"k":48,"u":3698,"u2":3804,"v":615,"v2":623.7},{"k":49,"u":3698,"u2":3804,"v":623.7,"v2":649.6},{"k":52,"u":3698,"u2":3804,"v":649.6,"v2":658.2},{"k":53,"u":3698,"u2":3804,"v":658.2,"v2":666.9},{"k":54,"u":3698,"u2":3804,"v":666.9,"v2":675.5},{"k":55,"u":3698,"u2":3804,"v":675.5,"v2":684.2},{"k":56,"u":3698,"u2":3804,"v":684.2,"v2":692.8},{"k":57,"u":3698,"u2":3804,"v":692.8,"v2":701.5},{"k":58,"u":3698,"u2":3804,"v":701.5,"v2":710.1},{"k":59,"u":3698,"u2":3804,"v":710.1,"v2":718.8},{"k":60,"u":3698,"u2":3804,"v":718.8,"v2":727.4},{"k":61,"u":3698,"u2":3804,"v":727.4,"v2":736.1},{"k":62,"u":3698,"u2":3804,"v":736.1,"v2":744.7},{"k":63,"u":3698,"u2":3804,"v":744.7,"v2":934.9},{"k":85,"u":3698,"u2":3804,"v":934.9,"v2":943.6},{"k":86,"u":3698,"u2":3804,"v":943.6,"v2":952.2},{"k":87,"u":3698,"u2":3804,"v":952.2,"v2":960.8},{"k":88,"u":3698,"u2":3804,"v":960.8,"v2":969.5},{"k":89,"u":3698,"u2":3804,"v":969.5,"v2":978.1},{"k":90,"u":3698,"u2":3804,"v":978.1,"v2":986.8},{"k":91,"u":3698,"u2":3804,"v":986.8,"v2":995.4},{"k":92,"u":3698,"u2":3804,"v":995.4,"v2":1004.1},{"k":93,"u":3698,"u2":3804,"v":1004.1,"v2":1012.7},{"k":94,"u":3698,"u2":3804,"v":1012.7,"v2":1021.4},{"k":95,"u":3698,"u2":3804,"v":1021.4,"v2":1030},{"k":96,"u":3698,"u2":3804,"v":1030,"v2":1038.7},{"k":97,"u":3698,"u2":3804,"v":1038.7,"v2":1047.3},{"k":98,"u":3698,"u2":3804,"v":1047.3,"v2":1056}]},
"mark":{"type":"rect"},
"encoding":{"x2":{"field":"u2"},"y2":{"field":"v2"},"color":{"field":"k","type":"ordinal","legend":null,"scale":{"domain":[-1,0,1,2,3,4,5,6,7,8,9,10,11,12,13,14,15,16,17,18,19,20,21,22,23,24,25,26,27,28,29,30,31,41,42,43,44,45,46,47,48,49,52,53,54,55,56,57,58,59,60,61,62,63,85,86,87,88,89,90,91,92,93,94,95,96,97,98],"range":["#000000","#80006a","#850075","#8a0080","#90008c","#950098","#9800a8","#9500c0","#9000d8","#8800f0","#8000ff","#7000ff","#5000ff","#3000ff","#1000ff","#0000ff","#0010ff","#0030ff","#0040ff","#0050ff","#0060ff","#0080ff","#0090ff","#00a0ff","#00b0ff","#00c0ff","#00e0ff","#00ffff","#00ffff","#00ffc8","#00ff98","#00ff50","#00ff00","#30ff00","#58ff00","#78ff00","#98ff00","#b0ff00","#c8ff00","#e0ff00","#f0ff00","#ffff00","#ffe800","#ffd800","#ffc000","#ffb000","#ff9800","#ff8800","#ff7000","#ff5800","#ff4800","#ff3000","#ff1800","#ff0000","#f00000","#e80000","#e00000","#d80000","#d00000","#c80000","#c00000","#b40000","#a80000","#9c0000","#900000","#840000","#780000","#6a0000"]}}}},
{"data":{"values":[{"t":"1000","u":150,"v":94},{"t":"800","u":157.5,"v":289},{"t":"600","u":166,"v":482},{"t":"400","u":173.5,"v":668},{"t":"200","u":180.5,"v":852},{"t":"0","u":188,"v":1030},{"t":"1000","u":2304,"v":134},{"t":"800","u":2312,"v":317},{"t":"600","u":2320,"v":497},{"t":"400","u":2328,"v":673},{"t":"200","u":2334,"v":845},{"t":"0","u":2341,"v":1012}]},
"mark":{"type":"text","align":"right","baseline":"middle","fontSize":38,"angle":-4},"encoding":{"text":{"field":"t"}}},
{"data":{"values":[{"t":"0.000","u":1771,"v":162},{"t":"100.0","u":1771,"v":245},{"t":"200.0","u":1771,"v":328},{"t":"300.0","u":1771,"v":411},{"t":"400.0","u":1771,"v":494},{"t":"500.0","u":1771,"v":577},{"t":"600.0","u":1771,"v":659},{"t":"700.0","u":1771,"v":742},{"t":"800.0","u":1771,"v":825.5},{"t":"900.0","u":1771,"v":908},{"t":"1000","u":1771,"v":992},{"t":"1130","u":1771,"v":1074},
{"t":"0.000","u":3820.5,"v":200},{"t":"100.0","u":3820.5,"v":278},{"t":"200.0","u":3820.5,"v":355.6},{"t":"300.0","u":3820.5,"v":433.7},{"t":"400.0","u":3820.5,"v":511.7},{"t":"500.0","u":3820.5,"v":588},{"t":"600.0","u":3820.5,"v":666},{"t":"700.0","u":3820.5,"v":744},{"t":"800.0","u":3820.5,"v":822.7},{"t":"900.0","u":3820.5,"v":900},{"t":"1000","u":3820.5,"v":978.6},{"t":"1130","u":3820.5,"v":1056}]},
"mark":{"type":"text","align":"left","baseline":"middle","fontSize":43},"encoding":{"text":{"field":"t"}}},
{"data":{"values":[{"t":"20","u":322,"v":1160},{"t":"40","u":514,"v":1320},{"t":"10","u":2387,"v":1065},{"t":"20","u":2463.5,"v":1134},{"t":"30","u":2548,"v":1206},{"t":"40","u":2642,"v":1286}]},
"mark":{"type":"text","align":"center","baseline":"middle","fontSize":27,"angle":-18},"encoding":{"text":{"field":"t"}}},
{"data":{"values":[{"t":"10","u":942,"v":1336},{"t":"20","u":1225,"v":1264},{"t":"30","u":1492,"v":1200},{"t":"10","u":3028,"v":1307},{"t":"20","u":3265,"v":1248},{"t":"30","u":3493,"v":1192}]},
"mark":{"type":"text","align":"center","baseline":"middle","fontSize":27,"angle":38},"encoding":{"text":{"field":"t"}}},
{"data":{"values":[{"t":"Thickness (nm)","u":53,"v":585}]},"mark":{"type":"text","align":"center","baseline":"middle","fontSize":58,"angle":88.5},"encoding":{"text":{"field":"t"}}},
{"data":{"values":[{"t":"Thickness (nm)","u":2204,"v":597}]},"mark":{"type":"text","align":"center","baseline":"middle","fontSize":54,"angle":88},"encoding":{"text":{"field":"t"}}},
{"data":{"values":[{"t":"Distance along the minor axis (mm)","u":314,"v":1237}]},"mark":{"type":"text","align":"center","baseline":"middle","fontSize":43,"angle":39.3},"encoding":{"text":{"field":"t"}}},
{"data":{"values":[{"t":"Distance along the minor axis (mm)","u":2448,"v":1204}]},"mark":{"type":"text","align":"center","baseline":"middle","fontSize":36,"angle":39.7},"encoding":{"text":{"field":"t"}}},
{"data":{"values":[{"t":"Distance along the major axis (mm)","u":1190,"v":1333}]},"mark":{"type":"text","align":"center","baseline":"middle","fontSize":66,"angle":-13.4},"encoding":{"text":{"field":"t"}}},
{"data":{"values":[{"t":"Distance along the major axis (mm)","u":3281,"v":1293}]},"mark":{"type":"text","align":"center","baseline":"middle","fontSize":55,"angle":-12.9},"encoding":{"text":{"field":"t"}}},
{"data":{"values":[{"t":"(","u":772,"v":1632},{"t":")","u":835,"v":1632},{"t":"(","u":2948,"v":1632},{"t":")","u":3024,"v":1632}]},"mark":{"type":"text","align":"center","baseline":"middle","font":"Liberation Serif","fontSize":72},"encoding":{"text":{"field":"t"}}},
{"data":{"values":[{"t":"a","u":803.5,"v":1636},{"t":"b","u":2986,"v":1634}]},"mark":{"type":"text","align":"center","baseline":"middle","font":"Liberation Serif","fontWeight":"bold","fontSize":72},"encoding":{"text":{"field":"t"}}}
]}
